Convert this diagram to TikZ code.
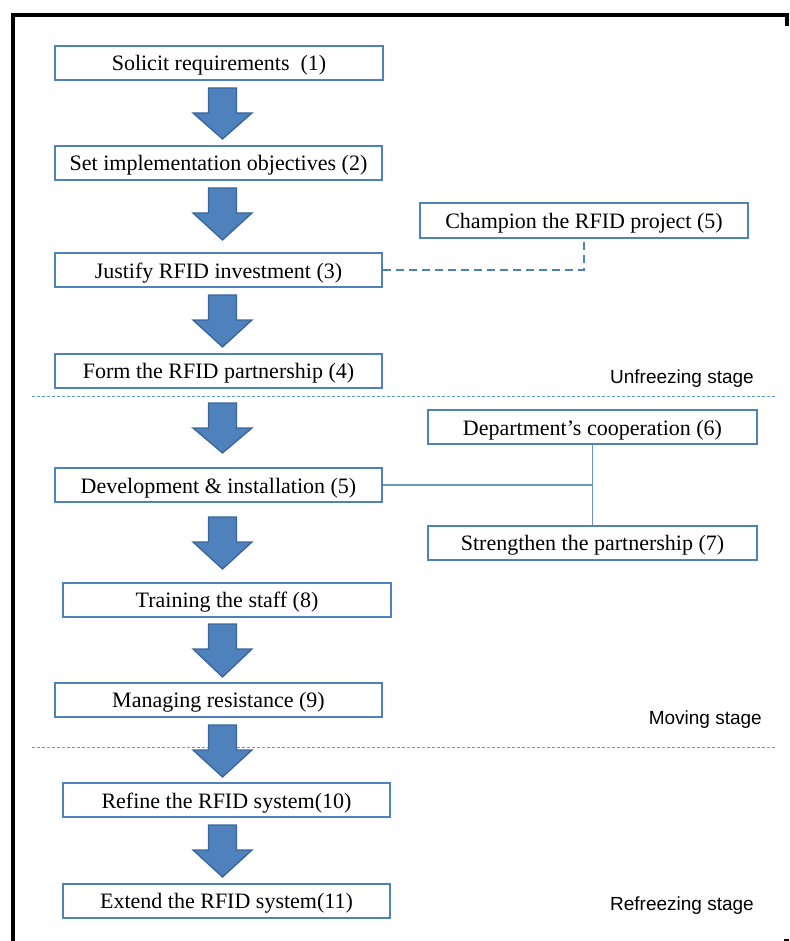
\documentclass[tikz,border=0pt]{standalone}
\usepackage{fontspec}
\setmainfont{Liberation Serif}
\newfontfamily\stagefont{Liberation Sans}
\definecolor{boxblue}{HTML}{4F81BD}
\definecolor{arrowedge}{HTML}{3A659A}
\definecolor{sepblue}{HTML}{5B9BD5}
\newcommand\downblock[3]{% x, top of shaft, tip
  \filldraw[fill=boxblue,draw=arrowedge,line width=1.3pt,line join=miter]
    (#1-14,#2) -- (#1+14,#2) -- (#1+14,#2+25) -- (#1+29.5,#2+25) --
    (#1,#3) -- (#1-29.5,#2+25) -- (#1-14,#2+25) -- cycle;}
\begin{document}
\begin{tikzpicture}[x=1pt,y=-1pt,
  stepbox/.style={draw=boxblue,line width=2pt,fill=white,inner sep=0pt,
    minimum height=34pt,text height=16pt,text depth=0pt,
    font=\fontsize{22}{25}\selectfont},
  stagelabel/.style={anchor=base east,inner sep=0pt,font=\stagefont\fontsize{19}{22}\selectfont},
  separator/.style={draw=sepblue,line width=0.8pt,dash pattern=on 3pt off 2pt},
  dashlink/.style={draw=boxblue,line width=1.8pt,dash pattern=on 8pt off 5pt},
  solidlink/.style={draw=boxblue!85,line width=1.4pt}]
\useasboundingbox (0,0) rectangle (789,941);
% outer frame
\draw[line width=4pt,line cap=rect] (13,941) -- (13,15) -- (787,15) -- (787,24);
\fill (784,939) rectangle (789,941);

% stage separators
\draw[separator] (32,396.5) -- (777,396.5);
\draw[separator] (32,747) -- (777,747);

% main sequence
\node[stepbox,minimum width=328pt] (s1) at (219,63) {Solicit requirements \ (1)};
\node[stepbox,minimum width=327pt] (s2) at (218.5,163) {Set implementation objectives (2)};
\node[stepbox,minimum width=327pt] (s3) at (218.5,270) {Justify RFID investment (3)};
\node[stepbox,minimum width=327pt] (s4) at (218.5,370.5) {Form the RFID partnership (4)};
\node[stepbox,minimum width=327pt] (s5) at (218.5,485) {Development \& installation (5)};
\node[stepbox,minimum width=328pt] (s8) at (227,599.5) {Training the staff (8)};
\node[stepbox,minimum width=327pt] (s9) at (218.5,699.5) {Managing resistance (9)};
\node[stepbox,minimum width=327pt] (s10) at (226.5,800) {Refine the RFID system(10)};
\node[stepbox,minimum width=327pt] (s11) at (226.5,900.5) {Extend the RFID system(11)};

% side activities
\node[stepbox,minimum width=328pt] (champ) at (584,220.5) {Champion the RFID project (5)};
\node[stepbox,minimum width=329pt] (dept) at (592.5,427) {Department’s cooperation (6)};
\node[stepbox,minimum width=329pt] (strong) at (592.5,542.5) {Strengthen the partnership (7)};

% block arrows between steps
\downblock{222.5}{88}{139}
\downblock{222.5}{188}{240}
\downblock{222.5}{295}{347}
\downblock{222.5}{403}{453}
\downblock{222.5}{517}{569}
\downblock{222.5}{624}{677}
\downblock{222.5}{725}{777}
\downblock{222.5}{825}{877}

% connectors to side activities
\draw[dashlink] (s3.east) -| (champ.south);
\draw[solidlink] (s5.east) -- (s5.east -| dept.south);
\draw[solidlink] (dept.south) -- (strong.north);

% stage labels
\node[stagelabel] (unfreeze) at (754,383) {Unfreezing stage};
\node[stagelabel] (moving) at (762,724) {Moving stage};
\node[stagelabel] (refreeze) at (754,910) {Refreezing stage};
\end{tikzpicture}
\end{document}
